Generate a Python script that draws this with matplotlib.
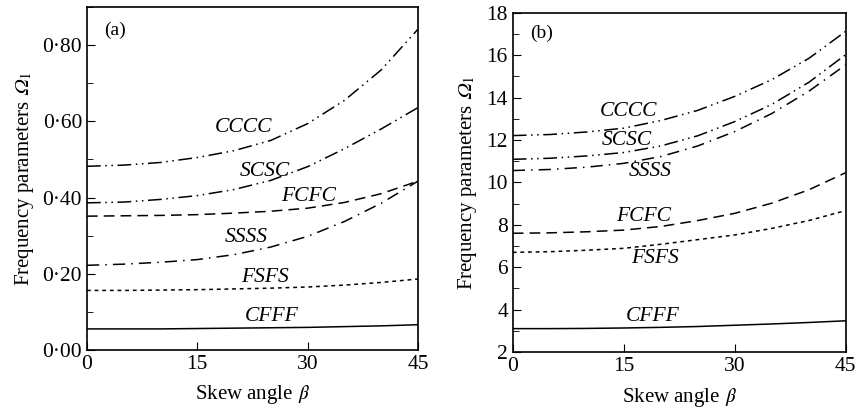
import matplotlib
matplotlib.use("Agg")
import matplotlib.pyplot as plt
from matplotlib.ticker import MultipleLocator, FuncFormatter

plt.rcParams['font.family'] = ['Liberation Serif', 'DejaVu Serif']
plt.rcParams['mathtext.fontset'] = 'stix'

beta = [0, 5, 10, 15, 20, 25, 30, 35, 40, 45]

# panel (a)
a_cccc = [0.482, 0.485, 0.492, 0.505, 0.523, 0.550, 0.594, 0.655, 0.735, 0.842]
a_scsc = [0.386, 0.388, 0.395, 0.405, 0.421, 0.445, 0.481, 0.528, 0.580, 0.636]
a_fcfc = [0.351, 0.352, 0.353, 0.355, 0.359, 0.364, 0.372, 0.387, 0.410, 0.443]
a_ssss = [0.222, 0.225, 0.230, 0.237, 0.250, 0.270, 0.298, 0.337, 0.385, 0.443]
a_fsfs = [0.156, 0.156, 0.157, 0.158, 0.160, 0.162, 0.165, 0.170, 0.177, 0.186]
a_cfff = [0.055, 0.055, 0.055, 0.056, 0.057, 0.058, 0.059, 0.061, 0.063, 0.066]

# panel (b)
b_cccc = [12.21, 12.26, 12.38, 12.56, 12.92, 13.40, 14.06, 14.85, 15.85, 17.13]
b_scsc = [11.09, 11.14, 11.25, 11.41, 11.72, 12.20, 12.87, 13.68, 14.72, 16.03]
b_ssss = [10.56, 10.61, 10.72, 10.90, 11.22, 11.72, 12.40, 13.25, 14.30, 15.55]
b_fcfc = [7.60, 7.62, 7.67, 7.75, 7.92, 8.20, 8.54, 9.02, 9.65, 10.46]
b_fsfs = [6.70, 6.73, 6.80, 6.89, 7.08, 7.30, 7.52, 7.83, 8.20, 8.67]
b_cfff = [3.10, 3.10, 3.11, 3.13, 3.16, 3.20, 3.26, 3.32, 3.39, 3.47]

names = ['CCCC', 'SCSC', 'FCFC', 'SSSS', 'FSFS', 'CFFF']
styles = {
    'CCCC': (0, (9, 3, 1, 3, 1, 3)),
    'SCSC': (0, (9, 3, 1, 3, 1, 3)),
    'SSSS': (0, (8, 4, 1, 4)),
    'FCFC': (0, (7, 4)),
    'FSFS': (0, (2.5, 2.5)),
    'CFFF': '-',
}

a_series = dict(zip(names, [a_cccc, a_scsc, a_fcfc, a_ssss, a_fsfs, a_cfff]))
b_series = dict(zip(names, [b_cccc, b_scsc, b_fcfc, b_ssss, b_fsfs, b_cfff]))

a_labels = {'CCCC': (21.25, 0.583), 'SCSC': (24.2, 0.469), 'FCFC': (30.1, 0.403),
            'SSSS': (21.7, 0.294), 'FSFS': (24.2, 0.189), 'CFFF': (25.1, 0.088)}
b_labels = {'CCCC': (15.6, 13.35), 'SCSC': (15.4, 12.0), 'SSSS': (18.6, 10.51),
            'FCFC': (17.7, 8.38), 'FSFS': (19.2, 6.41), 'CFFF': (18.9, 3.65)}

fig = plt.figure(figsize=(8.56, 4.16), dpi=100)
ax1 = fig.add_axes([0.1016, 0.159, 0.3867, 0.824])
ax2 = fig.add_axes([0.599, 0.154, 0.389, 0.815])


def style_axes(ax):
    ax.set_xlim(0, 45)
    ax.set_xticks([0, 15, 30, 45])
    ax.tick_params(direction='in', which='both', labelsize=15.5, top=False, right=False)
    ax.tick_params(which='major', length=6)
    ax.tick_params(which='minor', length=4)
    for s in ax.spines.values():
        s.set_linewidth(1.2)
    ax.set_xlabel('Skew angle $\U0001D6FD$', fontsize=15, labelpad=7)
    ax.set_ylabel('Frequency parameters $\U0001D6FA_1$', fontsize=15, labelpad=5)


for ax, series, labels in [(ax1, a_series, a_labels), (ax2, b_series, b_labels)]:
    for n in names:
        ax.plot(beta, series[n], color='black', lw=1.1, linestyle=styles[n])
        x, y = labels[n]
        ax.text(x, y, n, style='italic', fontsize=15.5, ha='center', va='center')
    style_axes(ax)

ax1.set_ylim(0, 0.9)
ax1.yaxis.set_major_locator(MultipleLocator(0.2))
ax1.yaxis.set_minor_locator(MultipleLocator(0.1))
ax1.yaxis.set_major_formatter(FuncFormatter(lambda v, p: f'{v:.2f}'.replace('.', '\u00b7')))
ax1.text(2.4, 0.84, '(a)', fontsize=14, ha='left', va='center')

ax2.set_ylim(2, 18)
ax2.yaxis.set_major_locator(MultipleLocator(2))
ax2.yaxis.set_minor_locator(MultipleLocator(1))
ax2.text(2.4, 17.05, '(b)', fontsize=14, ha='left', va='center')

fig.savefig('out.png', dpi=100)
